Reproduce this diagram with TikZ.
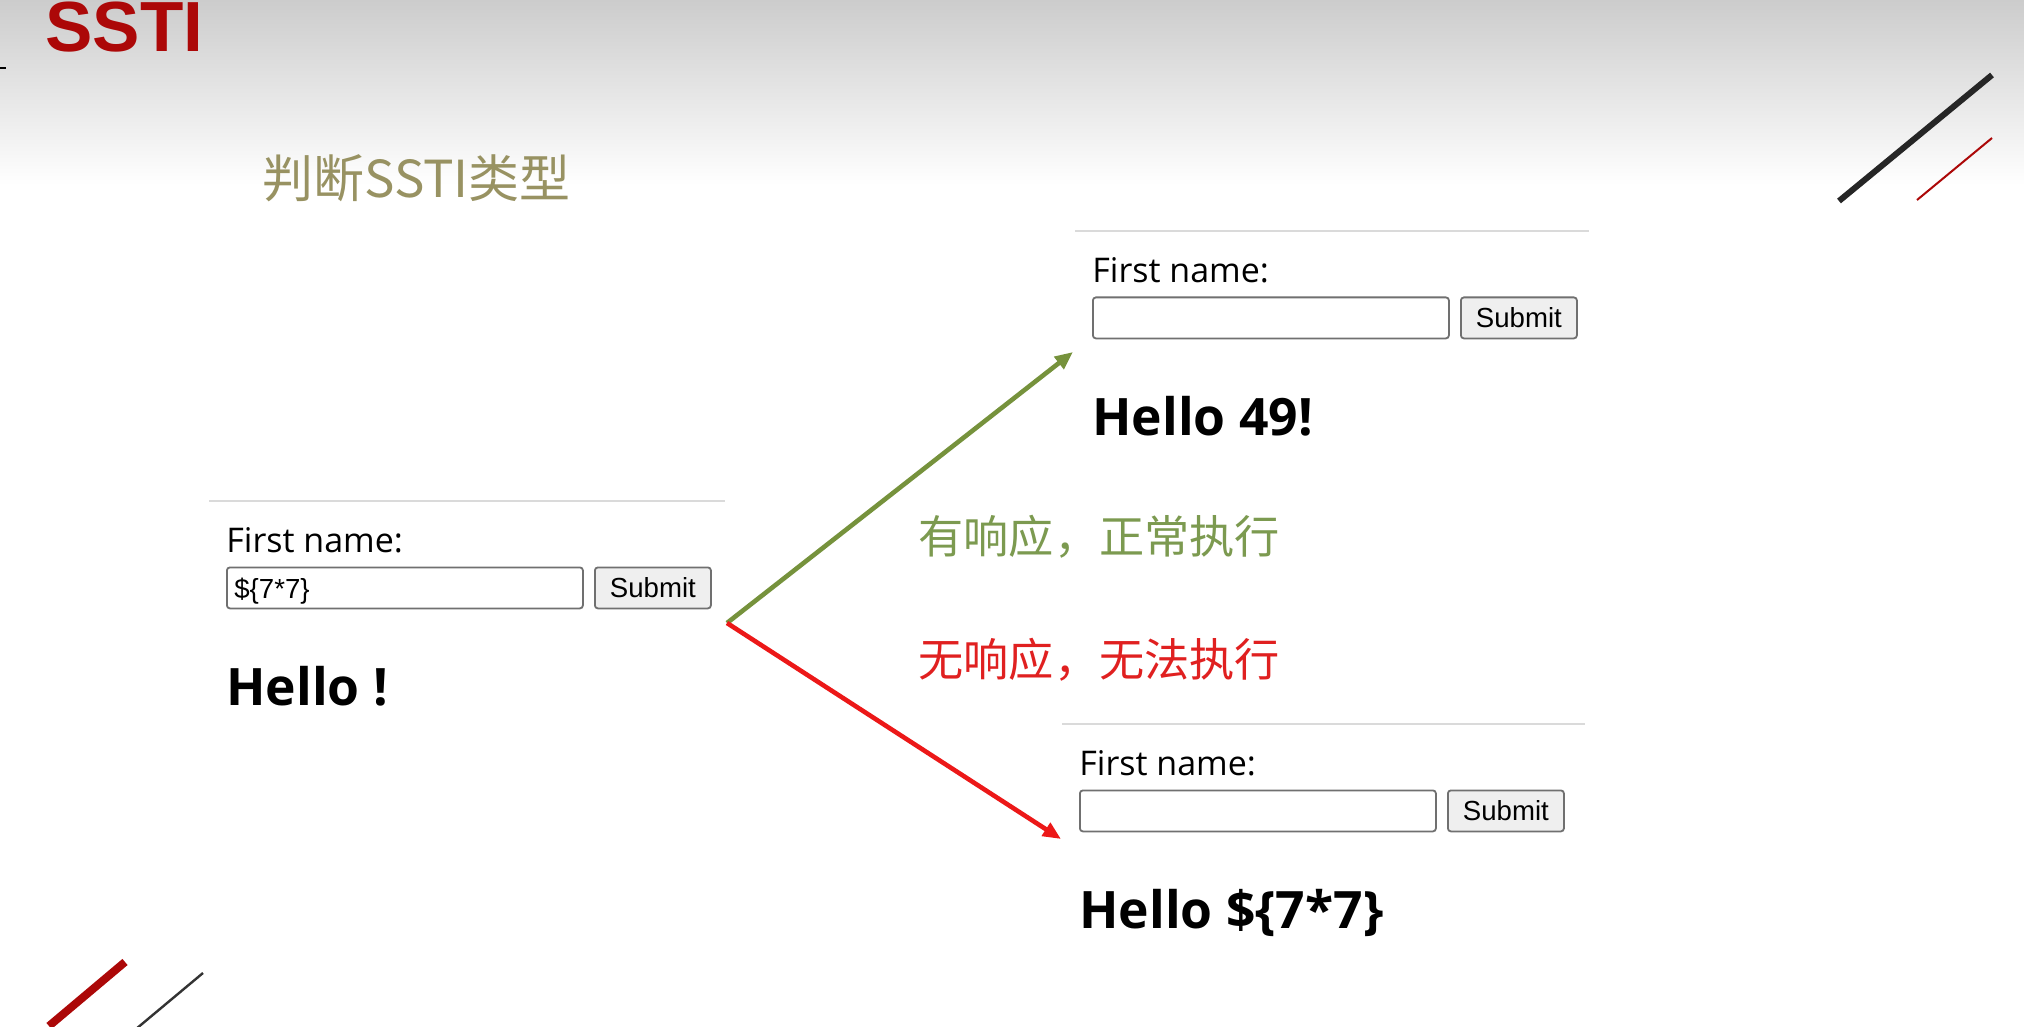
\documentclass[tikz,border=0pt]{standalone}
\usepackage{fontspec}
\usetikzlibrary{arrows.meta}
\newfontfamily\arialf{Liberation Sans}
\newfontfamily\uif{Open Sans}
\newfontfamily\cjkf{Noto Sans CJK SC}
\definecolor{titlered}{RGB}{172,8,8}
\definecolor{olivet}{RGB}{152,146,98}
\definecolor{okgreen}{RGB}{124,154,80}
\definecolor{okarrowc}{RGB}{118,146,60}
\definecolor{failred}{RGB}{224,32,32}
\definecolor{failarrowc}{RGB}{236,24,24}
\definecolor{boxborder}{RGB}{112,112,112}
\definecolor{btnfill}{RGB}{239,239,239}
\definecolor{sepline}{RGB}{218,218,218}
\tikzset{
  fieldbox/.style={draw=boxborder, line width=0.9pt, rounded corners=1.5pt, fill=white, minimum width=178pt, minimum height=20.5pt, inner sep=0pt, anchor=north west},
  btnbox/.style={draw=boxborder, line width=0.9pt, rounded corners=1.5pt, fill=btnfill, minimum width=58pt, minimum height=20.5pt, inner sep=0pt, anchor=north west, font=\arialf\fontsize{13.8pt}{16pt}\selectfont},
  labeltext/.style={anchor=base west, inner sep=0pt, font=\uif\fontsize{17pt}{20pt}\selectfont},
  hellotext/.style={anchor=base west, inner sep=0pt, font=\uif\bfseries\fontsize{25.8pt}{30pt}\selectfont},
  fieldtext/.style={anchor=base west, inner sep=0pt, font=\arialf\fontsize{13.8pt}{16pt}\selectfont},
  okarrow/.style={draw=okarrowc, line width=2.3pt, -{Triangle[length=9pt,width=7.5pt]}},
  failarrow/.style={draw=failarrowc, line width=2.3pt, -{Triangle[length=9pt,width=7.5pt]}},
  cjklabel/.style={anchor=base west, inner sep=0pt, font=\cjkf\fontsize{22.6pt}{26pt}\selectfont},
}
% #1 name, #2 x0, #3 y0 (separator line y), #4 field text, #5 hello text, #6 line right extent
\newcommand{\drawwebform}[6]{%
  \begin{scope}[shift={(#2,#3)}]
    \draw[sepline, line width=1pt] (-17,0) -- (#6,0);
    \node[labeltext] (#1-lbl) at (0,51.5) {First name:};
    \node[fieldbox] (#1-in) at (0,65.5) {};
    \node[fieldtext] (#1-val) at (8,97) {#4};
    \node[btnbox] (#1-btn) at (368,65.5) {Submit};
    \node[hellotext] (#1-hello) at (0,204) {#5};
  \end{scope}}
\begin{document}
\begin{tikzpicture}[x=0.5pt,y=-0.5pt]
\useasboundingbox (0,0) rectangle (2024,1027);
\fill[white] (0,0) rectangle (2024,1027);
\fill[top color=black!20, bottom color=white] (0,0) rectangle (2024,185);
% title
\node[anchor=base west, inner sep=0pt, text=titlered, font=\arialf\bfseries\fontsize{35.5pt}{38pt}\selectfont] (title) at (45,52) {SSTI};
\draw[black, line width=1pt] (0,68) -- (6,68);
\node[anchor=base west, inner sep=0pt, text=olivet, font=\cjkf\fontsize{25.5pt}{28pt}\selectfont] (subtitle) at (262,198) {判断SSTI类型};
% decorative lines
\draw[black!85, line width=3pt] (1839,201) -- (1992,75);
\draw[titlered, line width=1pt] (1917,200) -- (1992,138);
\draw[titlered, line width=4pt] (49,1026) -- (125,962);
\draw[black!80, line width=1.2pt] (136,1029) -- (203,973);
% forms
\drawwebform{left}{226}{501}{\$\{7*7\}}{Hello !}{499}
\drawwebform{ok}{1092}{231}{}{Hello 49!}{497}
\drawwebform{fail}{1079}{724}{}{Hello \$\{7*7\}}{506}
% arrows
\coordinate (src) at (727,623);
\coordinate (okend) at (1073,352);
\coordinate (failend) at (1061,839);
\draw[okarrow] (src) -- (okend);
\draw[failarrow] (src) -- (failend);
% labels
\node[cjklabel, text=okgreen] (oklbl) at (918,553) {有响应，正常执行};
\node[cjklabel, text=failred] (faillbl) at (918,676) {无响应，无法执行};
\end{tikzpicture}
\end{document}
